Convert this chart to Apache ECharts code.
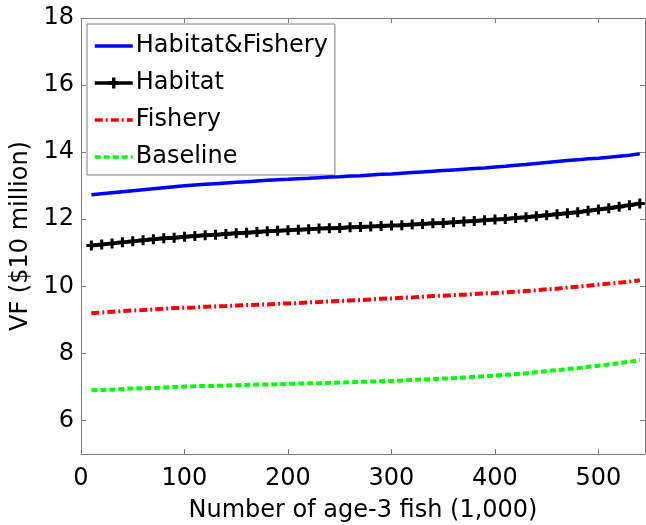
<!DOCTYPE html>
<html>
<head>
<meta charset="utf-8">
<script src="https://cdn.jsdelivr.net/npm/echarts@6/dist/echarts.min.js"></script>
<style>
  html, body { margin: 0; padding: 0; background: #fff; }
  #chart { width: 646px; height: 525px; }
</style>
</head>
<body>
<div id="chart"></div>
<script>
// x values (thousand age-3 fish)
const fishCounts = [
  10, 20, 30, 40, 50, 60, 70, 80, 90, 100,
  110, 120, 130, 140, 150, 160, 170, 180, 190, 200,
  210, 220, 230, 240, 250, 260, 270, 280, 290, 300,
  310, 320, 330, 340, 350, 360, 370, 380, 390, 400,
  410, 420, 430, 440, 450, 460, 470, 480, 490, 500,
  510, 520, 530, 540
];

const habitatFishery = [
  12.73, 12.76, 12.79, 12.82, 12.85, 12.88, 12.91, 12.94, 12.97, 13.00,
  13.02, 13.04, 13.06, 13.08, 13.10, 13.12, 13.14, 13.16, 13.18, 13.19,
  13.21, 13.22, 13.24, 13.26, 13.27, 13.29, 13.30, 13.32, 13.34, 13.35,
  13.37, 13.39, 13.41, 13.43, 13.45, 13.47, 13.49, 13.51, 13.53, 13.56,
  13.58, 13.61, 13.63, 13.66, 13.69, 13.72, 13.75, 13.77, 13.80, 13.82,
  13.85, 13.88, 13.91, 13.95
];

const habitat = [
  11.22, 11.25, 11.28, 11.31, 11.34, 11.37, 11.40, 11.43, 11.45, 11.48,
  11.50, 11.52, 11.54, 11.56, 11.58, 11.60, 11.62, 11.64, 11.66, 11.67,
  11.69, 11.70, 11.72, 11.73, 11.74, 11.76, 11.77, 11.78, 11.80, 11.81,
  11.82, 11.84, 11.86, 11.88, 11.89, 11.91, 11.93, 11.95, 11.97, 11.99,
  12.01, 12.04, 12.06, 12.09, 12.12, 12.15, 12.18, 12.21, 12.25, 12.29,
  12.33, 12.37, 12.42, 12.47
];

const fishery = [
  9.20, 9.22, 9.24, 9.26, 9.28, 9.29, 9.31, 9.33, 9.35, 9.36,
  9.37, 9.39, 9.40, 9.41, 9.43, 9.44, 9.45, 9.46, 9.48, 9.49,
  9.50, 9.52, 9.53, 9.55, 9.56, 9.58, 9.59, 9.61, 9.63, 9.64,
  9.66, 9.67, 9.69, 9.71, 9.72, 9.74, 9.75, 9.77, 9.79, 9.80,
  9.82, 9.84, 9.86, 9.88, 9.91, 9.93, 9.96, 9.99, 10.02, 10.05,
  10.08, 10.11, 10.14, 10.18
];

const baseline = [
  6.90, 6.91, 6.92, 6.94, 6.95, 6.96, 6.97, 6.98, 7.00, 7.01,
  7.02, 7.03, 7.03, 7.04, 7.05, 7.06, 7.07, 7.07, 7.08, 7.09,
  7.10, 7.11, 7.11, 7.12, 7.13, 7.14, 7.15, 7.16, 7.17, 7.18,
  7.19, 7.21, 7.22, 7.23, 7.25, 7.26, 7.28, 7.30, 7.32, 7.34,
  7.36, 7.38, 7.41, 7.44, 7.47, 7.50, 7.53, 7.56, 7.60, 7.63,
  7.67, 7.71, 7.75, 7.80
];

const xTicks = [0, 100, 200, 300, 400, 500];
const yTicks = [6, 8, 10, 12, 14, 16, 18];

const FONT = 'DejaVu Sans, sans-serif';
const FONT_SIZE = 24;
const AXIS_GRAY = '#7f7f7f';

const pairs = (ys) => fishCounts.map((x, i) => [x, ys[i]]);

// thick plus sign marker, like matlab's '+'
const plusMarker = 'path://M3.5,0 L6.5,0 L6.5,3.5 L10,3.5 L10,6.5 L6.5,6.5 L6.5,10 L3.5,10 L3.5,6.5 L0,6.5 L0,3.5 L3.5,3.5 Z';

const chart = echarts.init(document.getElementById('chart'), null, { renderer: 'canvas' });

const frameAxis = (pos, values, extra) => Object.assign({
  type: 'value',
  position: pos,
  axisLine: { show: true, onZero: false, lineStyle: { color: AXIS_GRAY, width: 1 } },
  axisTick: { show: true, inside: true, length: 5, customValues: values, lineStyle: { color: AXIS_GRAY } },
  axisLabel: { show: false },
  splitLine: { show: false }
}, extra);

// no dot on the legend sample for the plain lines
const hideDot = { opacity: 0 };

chart.setOption({
  animation: false,
  backgroundColor: '#fff',
  grid: { left: 81, top: 18, right: 1, bottom: 71, containLabel: false, outerBoundsMode: 'none' },
  legend: {
    orient: 'vertical',
    left: 87,
    top: 24,
    padding: [10, 7, 6, 6],
    itemWidth: 38,
    itemHeight: 14,
    itemGap: 13,
    backgroundColor: '#fff',
    borderColor: AXIS_GRAY,
    borderWidth: 1,
    lineStyle: { width: 3.5 },
    textStyle: { fontFamily: FONT, fontSize: FONT_SIZE, color: '#000', padding: [0, 0, 0, -2] },
    data: [
      { name: 'Habitat&Fishery', itemStyle: hideDot },
      { name: 'Habitat', itemStyle: { opacity: 1 } },
      { name: 'Fishery', itemStyle: hideDot },
      { name: 'Baseline', itemStyle: hideDot }
    ]
  },
  xAxis: [
    frameAxis('bottom', xTicks, {
      min: 0, max: 545,
      name: 'Number of age-3 fish (1,000)',
      nameLocation: 'middle',
      nameGap: 45,
      nameTextStyle: { fontFamily: FONT, fontSize: FONT_SIZE, color: '#000' },
      axisLabel: { show: true, customValues: xTicks, margin: 13, fontFamily: FONT, fontSize: FONT_SIZE, color: '#000' }
    }),
    frameAxis('top', xTicks, { min: 0, max: 545 })
  ],
  yAxis: [
    frameAxis('left', yTicks, {
      min: 5, max: 18,
      name: 'VF ($10 million)',
      nameLocation: 'middle',
      nameGap: 40,
      nameTextStyle: { fontFamily: FONT, fontSize: FONT_SIZE, color: '#000' },
      axisLabel: { show: true, customValues: yTicks, margin: 7, fontFamily: FONT, fontSize: FONT_SIZE, color: '#000' }
    }),
    frameAxis('right', yTicks, { min: 5, max: 18 })
  ],
  series: [
    {
      name: 'Habitat&Fishery',
      type: 'line',
      data: pairs(habitatFishery),
      symbol: 'none',
      lineStyle: { color: '#0000ff', width: 3.5 },
      itemStyle: { color: '#0000ff' },
      z: 4
    },
    {
      name: 'Habitat',
      type: 'line',
      data: pairs(habitat),
      symbol: plusMarker,
      symbolSize: 10,
      showAllSymbol: true,
      lineStyle: { color: '#000', width: 4 },
      itemStyle: { color: '#000', borderWidth: 0 },
      z: 3
    },
    {
      name: 'Fishery',
      type: 'line',
      data: pairs(fishery),
      symbol: 'none',
      lineStyle: { color: '#ff0000', width: 4, type: [8, 3, 2, 3] },
      itemStyle: { color: '#ff0000' },
      z: 2
    },
    {
      name: 'Baseline',
      type: 'line',
      data: pairs(baseline),
      symbol: 'none',
      lineStyle: { color: '#00ff00', width: 4, type: [6, 3] },
      itemStyle: { color: '#00ff00' },
      z: 1
    }
  ]
});
</script>
</body>
</html>
